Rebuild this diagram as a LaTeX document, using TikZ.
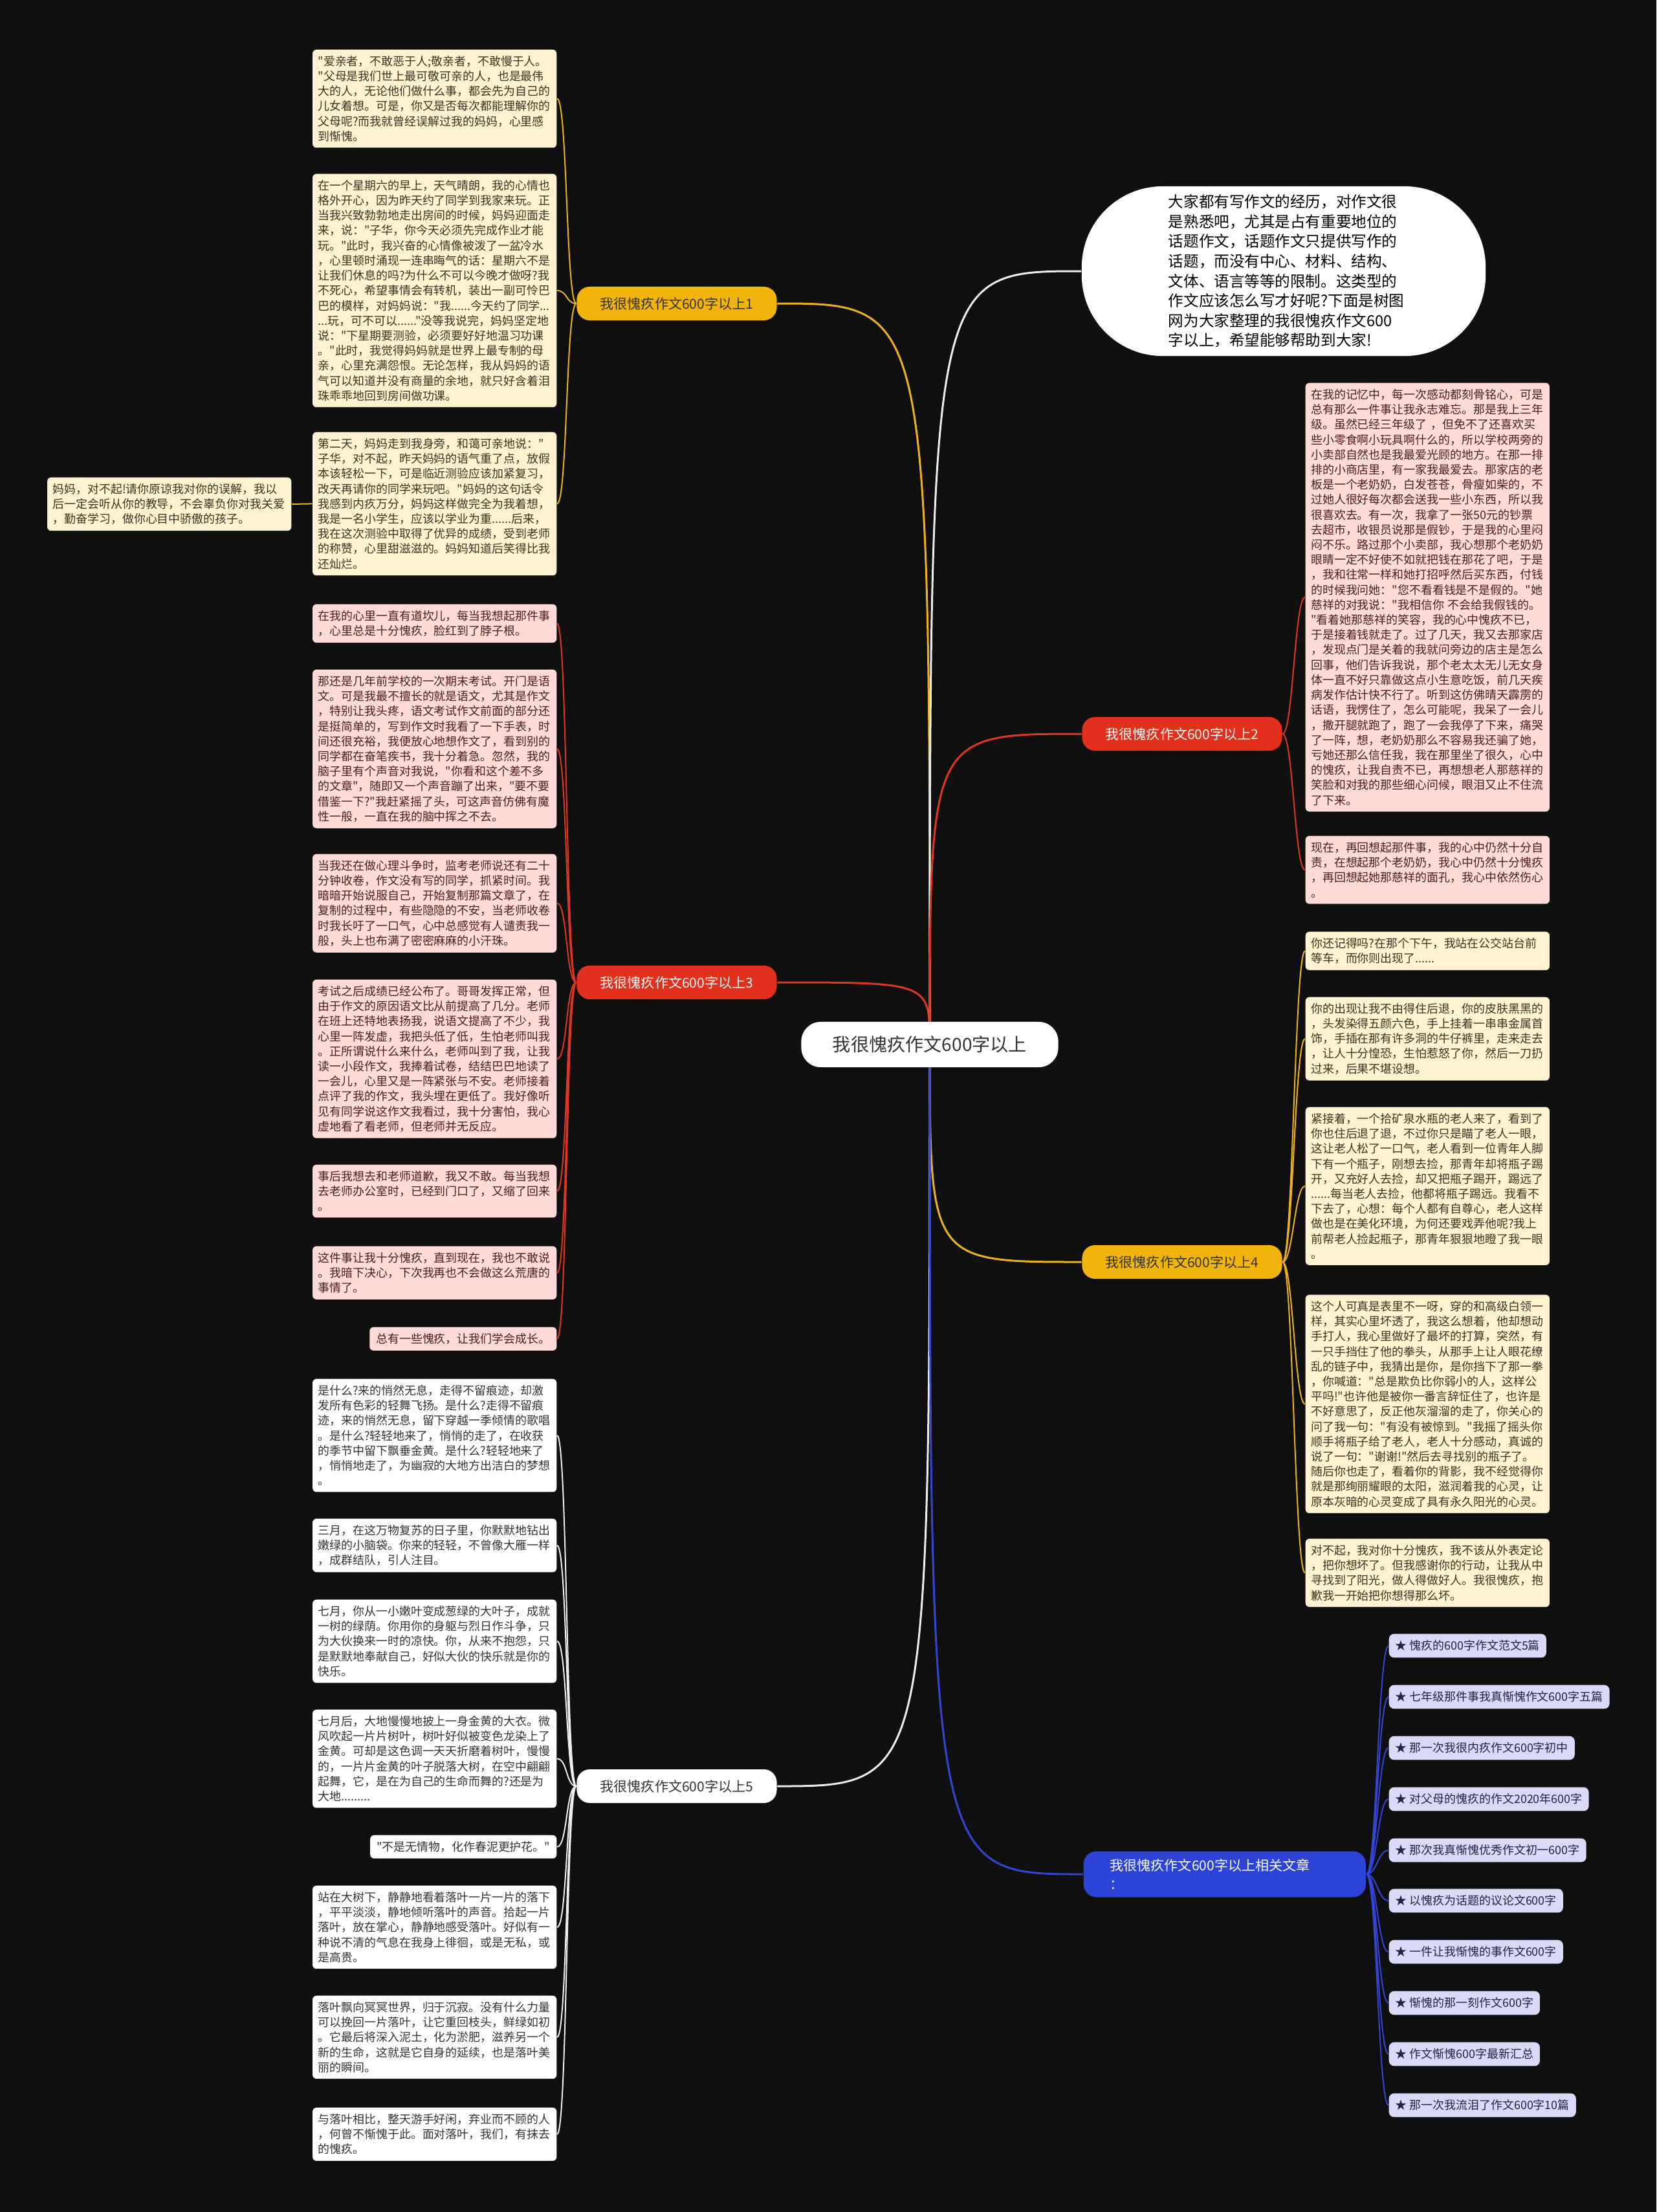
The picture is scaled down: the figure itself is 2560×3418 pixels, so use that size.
\documentclass[tikz,border=0pt]{standalone}
\usepackage{fontspec}
\newfontfamily\cjkfont{Noto Sans CJK SC}

\definecolor{pagebg}{HTML}{0F0F0F}
\definecolor{txtdark}{HTML}{333333}
\definecolor{goldfill}{HTML}{F0B40A}
\definecolor{goldline}{HTML}{EDB21A}
\definecolor{redfill}{HTML}{E3301C}
\definecolor{redline}{HTML}{DD3623}
\definecolor{bluefill}{HTML}{2D43D8}
\definecolor{blueline}{HTML}{3346D3}
\definecolor{greyline}{HTML}{EDEDED}
\definecolor{creamfill}{HTML}{FEF2D0}
\definecolor{creamtext}{HTML}{3B3222}
\definecolor{rosefill}{HTML}{FFDAD6}
\definecolor{rosetext}{HTML}{4B1E1E}
\definecolor{lilacfill}{HTML}{D8DAF7}
\definecolor{lilactext}{HTML}{20224A}

\pgfdeclarelayer{back}
\pgfdeclarelayer{links}
\pgfsetlayers{back,links,main}

\tikzset{
  centrebox/.style={fill=white, text=txtdark, rounded corners=0.3cm, minimum width=3.97cm, minimum height=0.7cm, font=\cjkfont\fontsize{8}{10}\selectfont},
  topicbox/.style={rounded corners=0.2cm, minimum width=3.09cm, minimum height=0.52cm, inner sep=0pt, font=\cjkfont\fontsize{6}{7.5}\selectfont},
  introbox/.style={fill=white, text=black, rounded corners=1.25cm, minimum width=6.24cm, minimum height=2.62cm, text width=3.56cm, align=left, font=\cjkfont\fontsize{6.7}{8.7}\selectfont},
  leafbox/.style={rounded corners=0.06cm, inner xsep=0.085cm, inner ysep=0.095cm, text width=3.6cm, align=left, font=\cjkfont\fontsize{5.1}{6.6}\selectfont},
  linebox/.style={rounded corners=0.06cm, inner xsep=0.1cm, inner ysep=0.095cm, font=\cjkfont\fontsize{5.1}{6.6}\selectfont},
  itembox/.style={fill=lilacfill, text=lilactext, anchor=west, rounded corners=0.08cm, inner xsep=0.1cm, inner ysep=0.1cm, font=\cjkfont\fontsize{5.1}{6.6}\selectfont},
  creambox/.style={fill=creamfill, text=creamtext},
  rosebox/.style={fill=rosefill, text=rosetext},
  whitebox/.style={fill=white, text=txtdark},
  trunkline/.style={line width=0.03cm},
  twigline/.style={line width=0.02cm},
  goleft/.style={out=180, in=0, distance=0.16cm},
  goright/.style={out=0, in=180, distance=0.16cm},
}

\begin{document}
\begin{tikzpicture}[x=0.01cm, y=-0.01cm]

\useasboundingbox (0,0) rectangle (2560,3418);
\begin{pgfonlayer}{back}
\fill[pagebg] (0,0) rectangle (2560,3418);
\end{pgfonlayer}

% centre and topics
\node[centrebox] (c) at (1437,1614) {我很愧疚作文600字以上};
\node[introbox] (intro) at (1984,419) {大家都有写作文的经历，对作文很\\是熟悉吧，尤其是占有重要地位的\\话题作文，话题作文只提供写作的\\话题，而没有中心、材料、结构、\\文体、语言等等的限制。这类型的\\作文应该怎么写才好呢?下面是树图\\网为大家整理的我很愧疚作文600\\字以上，希望能够帮助到大家!};
\node[topicbox, fill=goldfill, text=txtdark] (b1) at (1046,469) {我很愧疚作文600字以上1};
\node[topicbox, fill=redfill, text=white] (b2) at (1827,1134) {我很愧疚作文600字以上2};
\node[topicbox, fill=redfill, text=white] (b3) at (1046,1518) {我很愧疚作文600字以上3};
\node[topicbox, fill=goldfill, text=txtdark] (b4) at (1827,1950) {我很愧疚作文600字以上4};
\node[topicbox, fill=white, text=txtdark] (b5) at (1046,2760) {我很愧疚作文600字以上5};
\node[fill=bluefill, text=white, rounded corners=0.2cm, text width=3.55cm, inner xsep=0.405cm, inner ysep=0.115cm, align=left, font=\cjkfont\fontsize{6}{8.5}\selectfont] (b6) at (1893,2896) {我很愧疚作文600字以上相关文章\\：};

% topic 1
\node[leafbox, creambox, anchor=north east] (l1a) at (861,76) {"爱亲者，不敢恶于人;敬亲者，不敢慢于人。\\"父母是我们世上最可敬可亲的人，也是最伟\\大的人，无论他们做什么事，都会先为自己的\\儿女着想。可是，你又是否每次都能理解你的\\父母呢?而我就曾经误解过我的妈妈，心里感\\到惭愧。};
\node[leafbox, creambox, anchor=north east] (l1b) at (861,268) {在一个星期六的早上，天气晴朗，我的心情也\\格外开心，因为昨天约了同学到我家来玩。正\\当我兴致勃勃地走出房间的时候，妈妈迎面走\\来，说："子华，你今天必须先完成作业才能\\玩。"此时，我兴奋的心情像被泼了一盆冷水\\，心里顿时涌现一连串晦气的话：星期六不是\\让我们休息的吗?为什么不可以今晚才做呀?我\\不死心，希望事情会有转机，装出一副可怜巴\\巴的模样，对妈妈说："我......今天约了同学...\\...玩，可不可以......"没等我说完，妈妈坚定地\\说："下星期要测验，必须要好好地温习功课\\。"此时，我觉得妈妈就是世界上最专制的母\\亲，心里充满怨恨。无论怎样，我从妈妈的语\\气可以知道并没有商量的余地，就只好含着泪\\珠乖乖地回到房间做功课。};
\node[leafbox, creambox, anchor=north east] (l1c) at (861,667) {第二天，妈妈走到我身旁，和蔼可亲地说："\\子华，对不起，昨天妈妈的语气重了点，放假\\本该轻松一下，可是临近测验应该加紧复习，\\改天再请你的同学来玩吧。"妈妈的这句话令\\我感到内疚万分，妈妈这样做完全为我着想，\\我是一名小学生，应该以学业为重......后来，\\我在这次测验中取得了优异的成绩，受到老师\\的称赞，心里甜滋滋的。妈妈知道后笑得比我\\还灿烂。};
\node[leafbox, creambox, anchor=north east] (mama) at (451,737) {妈妈，对不起!请你原谅我对你的误解，我以\\后一定会听从你的教导，不会辜负你对我关爱\\，勤奋学习，做你心目中骄傲的孩子。};

% topic 3
\node[leafbox, rosebox, anchor=north east] (l3a) at (861,933) {在我的心里一直有道坎儿，每当我想起那件事\\，心里总是十分愧疚，脸红到了脖子根。};
\node[leafbox, rosebox, anchor=north east] (l3b) at (861,1034) {那还是几年前学校的一次期末考试。开门是语\\文。可是我最不擅长的就是语文，尤其是作文\\，特别让我头疼，语文考试作文前面的部分还\\是挺简单的，写到作文时我看了一下手表，时\\间还很充裕，我便放心地想作文了，看到别的\\同学都在奋笔疾书，我十分着急。忽然，我的\\脑子里有个声音对我说，"你看和这个差不多\\的文章"，随即又一个声音蹦了出来，"要不要\\借鉴一下?"我赶紧摇了头，可这声音仿佛有魔\\性一般，一直在我的脑中挥之不去。};
\node[leafbox, rosebox, anchor=north east] (l3c) at (861,1319) {当我还在做心理斗争时，监考老师说还有二十\\分钟收卷，作文没有写的同学，抓紧时间。我\\暗暗开始说服自己，开始复制那篇文章了，在\\复制的过程中，有些隐隐的不安，当老师收卷\\时我长吁了一口气，心中总感觉有人谴责我一\\般，头上也布满了密密麻麻的小汗珠。};
\node[leafbox, rosebox, anchor=north east] (l3d) at (861,1513) {考试之后成绩已经公布了。哥哥发挥正常，但\\由于作文的原因语文比从前提高了几分。老师\\在班上还特地表扬我，说语文提高了不少，我\\心里一阵发虚，我把头低了低，生怕老师叫我\\。正所谓说什么来什么，老师叫到了我，让我\\读一小段作文，我捧着试卷，结结巴巴地读了\\一会儿，心里又是一阵紧张与不安。老师接着\\点评了我的作文，我头埋在更低了。我好像听\\见有同学说这作文我看过，我十分害怕，我心\\虚地看了看老师，但老师并无反应。};
\node[leafbox, rosebox, anchor=north east] (l3e) at (861,1799) {事后我想去和老师道歉，我又不敢。每当我想\\去老师办公室时，已经到门口了，又缩了回来\\。};
\node[leafbox, rosebox, anchor=north east] (l3f) at (861,1925) {这件事让我十分愧疚，直到现在，我也不敢说\\。我暗下决心，下次我再也不会做这么荒唐的\\事情了。};
\node[linebox, rosebox, anchor=north east] (l3g) at (861,2050) {总有一些愧疚，让我们学会成长。};

% topic 5
\node[leafbox, whitebox, anchor=north east] (l5a) at (861,2130) {是什么?来的悄然无息，走得不留痕迹，却激\\发所有色彩的轻舞飞扬。是什么?走得不留痕\\迹，来的悄然无息，留下穿越一季倾情的歌唱\\。是什么?轻轻地来了，悄悄的走了，在收获\\的季节中留下飘垂金黄。是什么?轻轻地来了\\，悄悄地走了，为幽寂的大地方出洁白的梦想\\。};
\node[leafbox, whitebox, anchor=north east] (l5b) at (861,2346) {三月，在这万物复苏的日子里，你默默地钻出\\嫩绿的小脑袋。你来的轻轻，不曾像大雁一样\\，成群结队，引人注目。};
\node[leafbox, whitebox, anchor=north east] (l5c) at (861,2471) {七月，你从一小嫩叶变成葱绿的大叶子，成就\\一树的绿荫。你用你的身躯与烈日作斗争，只\\为大伙换来一时的凉快。你，从来不抱怨，只\\是默默地奉献自己，好似大伙的快乐就是你的\\快乐。};
\node[leafbox, whitebox, anchor=north east] (l5d) at (861,2641) {七月后，大地慢慢地披上一身金黄的大衣。微\\风吹起一片片树叶，树叶好似被变色龙染上了\\金黄。可却是这色调一天天折磨着树叶，慢慢\\的，一片片金黄的叶子脱落大树，在空中翩翩\\起舞，它，是在为自己的生命而舞的?还是为\\大地.........};
\node[linebox, whitebox, anchor=north east] (l5e) at (861,2835) {"不是无情物，化作春泥更护花。"};
\node[leafbox, whitebox, anchor=north east] (l5f) at (861,2913) {站在大树下，静静地看着落叶一片一片的落下\\，平平淡淡，静地倾听落叶的声音。拾起一片\\落叶，放在掌心，静静地感受落叶。好似有一\\种说不清的气息在我身上徘徊，或是无私，或\\是高贵。};
\node[leafbox, whitebox, anchor=north east] (l5g) at (861,3083) {落叶飘向冥冥世界，归于沉寂。没有什么力量\\可以挽回一片落叶，让它重回枝头，鲜绿如初\\。它最后将深入泥土，化为淤肥，滋养另一个\\新的生命，这就是它自身的延续，也是落叶美\\丽的瞬间。};
\node[leafbox, whitebox, anchor=north east] (l5h) at (861,3256) {与落叶相比，整天游手好闲，弃业而不顾的人\\，何曾不惭愧于此。面对落叶，我们，有抹去\\的愧疚。};

% topic 2
\node[leafbox, rosebox, anchor=north west] (l2a) at (2017,591) {在我的记忆中，每一次感动都刻骨铭心，可是\\总有那么一件事让我永志难忘。那是我上三年\\级。虽然已经三年级了 ，但免不了还喜欢买\\些小零食啊小玩具啊什么的，所以学校两旁的\\小卖部自然也是我最爱光顾的地方。在那一排\\排的小商店里，有一家我最爱去。那家店的老\\板是一个老奶奶，白发苍苍，骨瘦如柴的，不\\过她人很好每次都会送我一些小东西，所以我\\很喜欢去。有一次，我拿了一张50元的钞票\\去超市，收银员说那是假钞，于是我的心里闷\\闷不乐。路过那个小卖部，我心想那个老奶奶\\眼睛一定不好使不如就把钱在那花了吧，于是\\，我和往常一样和她打招呼然后买东西，付钱\\的时候我问她："您不看看钱是不是假的。"她\\慈祥的对我说："我相信你~不会给我假钱的。\\"看着她那慈祥的笑容，我的心中愧疚不已，\\于是接着钱就走了。过了几天，我又去那家店\\，发现点门是关着的我就问旁边的店主是怎么\\回事，他们告诉我说，那个老太太无儿无女身\\体一直不好只靠做这点小生意吃饭，前几天疾\\病发作估计快不行了。听到这仿佛晴天霹雳的\\话语，我愣住了，怎么可能呢，我呆了一会儿\\，撒开腿就跑了，跑了一会我停了下来，痛哭\\了一阵，想，老奶奶那么不容易我还骗了她，\\亏她还那么信任我，我在那里坐了很久，心中\\的愧疚，让我自责不已，再想想老人那慈祥的\\笑脸和对我的那些细心问候，眼泪又止不住流\\了下来。};
\node[leafbox, rosebox, anchor=north west] (l2b) at (2017,1291) {现在，再回想起那件事，我的心中仍然十分自\\责，在想起那个老奶奶，我心中仍然十分愧疚\\，再回想起她那慈祥的面孔，我心中依然伤心\\。};

% topic 4
\node[leafbox, creambox, anchor=north west] (l4a) at (2017,1439) {你还记得吗?在那个下午，我站在公交站台前\\等车，而你则出现了......};
\node[leafbox, creambox, anchor=north west] (l4b) at (2017,1540) {你的出现让我不由得住后退，你的皮肤黑黑的\\，头发染得五颜六色，手上挂着一串串金属首\\饰，手插在那有许多洞的牛仔裤里，走来走去\\，让人十分惶恐，生怕惹怒了你，然后一刀扔\\过来，后果不堪设想。};
\node[leafbox, creambox, anchor=north west] (l4c) at (2017,1710) {紧接着，一个拾矿泉水瓶的老人来了，看到了\\你也住后退了退，不过你只是瞄了老人一眼，\\这让老人松了一口气，老人看到一位青年人脚\\下有一个瓶子，刚想去捡，那青年却将瓶子踢\\开，又充好人去捡，却又把瓶子踢开，踢远了\\......每当老人去捡，他都将瓶子踢远。我看不\\下去了，心想：每个人都有自尊心，老人这样\\做也是在美化环境，为何还要戏弄他呢?我上\\前帮老人捡起瓶子，那青年狠狠地瞪了我一眼\\。};
\node[leafbox, creambox, anchor=north west] (l4d) at (2017,2000) {这个人可真是表里不一呀，穿的和高级白领一\\样，其实心里坏透了，我这么想着，他却想动\\手打人，我心里做好了最坏的打算，突然，有\\一只手挡住了他的拳头，从那手上让人眼花缭\\乱的链子中，我猜出是你，是你挡下了那一拳\\，你喊道："总是欺负比你弱小的人，这样公\\平吗!"也许他是被你一番言辞怔住了，也许是\\不好意思了，反正他灰溜溜的走了，你关心的\\问了我一句："有没有被惊到。"我摇了摇头你\\顺手将瓶子给了老人，老人十分感动，真诚的\\说了一句："谢谢!"然后去寻找别的瓶子了。\\随后你也走了，看着你的背影，我不经觉得你\\就是那绚丽耀眼的太阳，滋润着我的心灵，让\\原本灰暗的心灵变成了具有永久阳光的心灵。};
\node[leafbox, creambox, anchor=north west] (l4e) at (2017,2377) {对不起，我对你十分愧疚，我不该从外表定论\\，把你想坏了。但我感谢你的行动，让我从中\\寻找到了阳光，做人得做好人。我很愧疚，抱\\歉我一开始把你想得那么坏。};

% related articles
\node[itembox] (r1) at (2146,2543) {★ 愧疚的600字作文范文5篇};
\node[itembox] (r2) at (2146,2622) {★ 七年级那件事我真惭愧作文600字五篇};
\node[itembox] (r3) at (2146,2701) {★ 那一次我很内疚作文600字初中};
\node[itembox] (r4) at (2146,2780) {★ 对父母的愧疚的作文2020年600字};
\node[itembox] (r5) at (2146,2859) {★ 那次我真惭愧优秀作文初一600字};
\node[itembox] (r6) at (2146,2937) {★ 以愧疚为话题的议论文600字};
\node[itembox] (r7) at (2146,3016) {★ 一件让我惭愧的事作文600字};
\node[itembox] (r8) at (2146,3095) {★ 惭愧的那一刻作文600字};
\node[itembox] (r9) at (2146,3174) {★ 作文惭愧600字最新汇总};
\node[itembox] (r10) at (2146,3253) {★ 那一次我流泪了作文600字10篇};

\begin{pgfonlayer}{links}
% centre to topics
\draw[trunkline, goldline] (c.center) .. controls (c.center |- b1.east) .. (b1.east);
\draw[trunkline, redline] (c.center) .. controls (c.center |- b3.east) .. (b3.east);
\draw[trunkline, greyline] (c.center) .. controls (c.center |- b5.east) .. (b5.east);
\draw[trunkline, greyline] (c.center) .. controls (c.center |- intro.west) .. (intro.west);
\draw[trunkline, redline] (c.center) .. controls (c.center |- b2.west) .. (b2.west);
\draw[trunkline, goldline] (c.center) .. controls (c.center |- b4.west) .. (b4.west);
\draw[trunkline, blueline] (c.center) .. controls (c.center |- b6.west) .. (b6.west);

% topics to leaves
\draw[twigline, goldline, goleft] (b1.west) to (l1a.east) (b1.west) to (l1b.east) (b1.west) to (l1c.east);
\draw[twigline, goldline] (l1c.west) -- (mama.east);
\draw[twigline, redline, goleft] (b3.west) to (l3a.east) (b3.west) to (l3b.east) (b3.west) to (l3c.east) (b3.west) to (l3d.east) (b3.west) to (l3e.east) (b3.west) to (l3f.east) (b3.west) to (l3g.east);
\draw[twigline, greyline, goleft] (b5.west) to (l5a.east) (b5.west) to (l5b.east) (b5.west) to (l5c.east) (b5.west) to (l5d.east) (b5.west) to (l5e.east) (b5.west) to (l5f.east) (b5.west) to (l5g.east) (b5.west) to (l5h.east);
\draw[twigline, redline, goright] (b2.east) to (l2a.west) (b2.east) to (l2b.west);
\draw[twigline, goldline, goright] (b4.east) to (l4a.west) (b4.east) to (l4b.west) (b4.east) to (l4c.west) (b4.east) to (l4d.west) (b4.east) to (l4e.west);
\draw[twigline, blueline, goright] (b6.east) to (r1.west) (b6.east) to (r2.west) (b6.east) to (r3.west) (b6.east) to (r4.west) (b6.east) to (r5.west) (b6.east) to (r6.west) (b6.east) to (r7.west) (b6.east) to (r8.west) (b6.east) to (r9.west) (b6.east) to (r10.west);
\end{pgfonlayer}

\end{tikzpicture}
\end{document}
